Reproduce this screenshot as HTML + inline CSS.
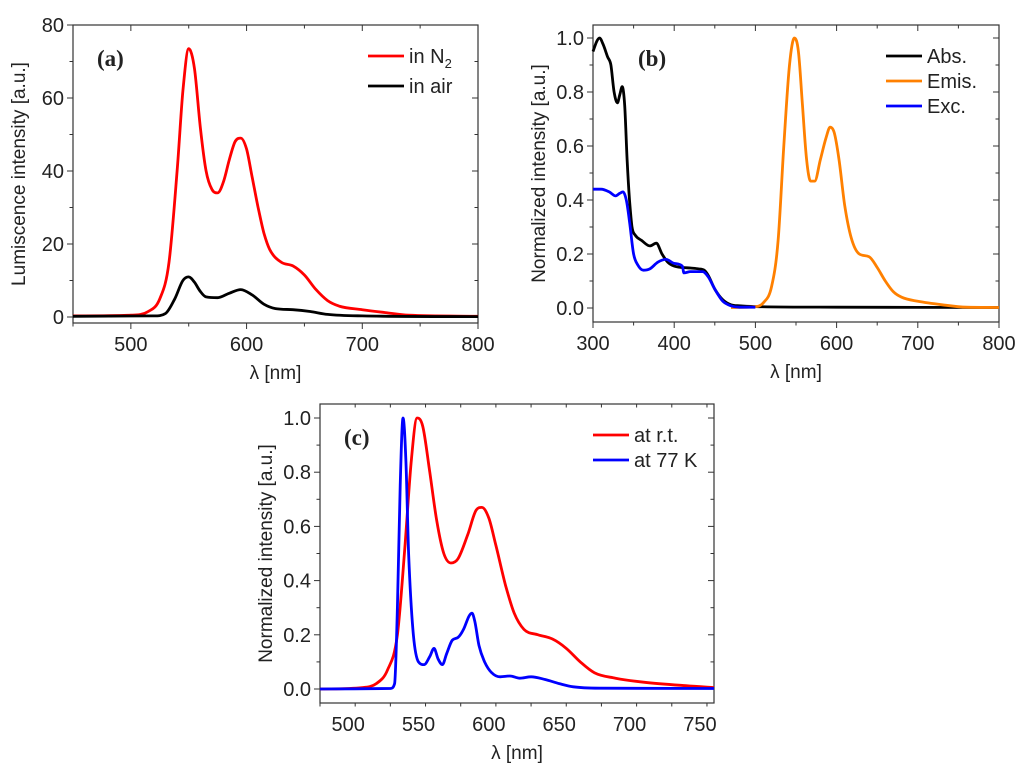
<!DOCTYPE html>
<html><head><meta charset="utf-8"><style>
html,body{margin:0;padding:0;background:#fff;width:1024px;height:767px;overflow:hidden}
svg text{font-family:"Liberation Sans",Arial,sans-serif;fill:#222}
</style></head><body>
<svg id="fig" width="1024" height="767" viewBox="0 0 1024 767" xmlns="http://www.w3.org/2000/svg"></svg>
<script>
// Panel (a) data
const aN2X=[450,500,515,525,533,540,545,550,555,560,565,570,575,580,585,590,595,600,605,610,615,620,630,640,650,660,670,680,700,720,740,800];
const aN2Y=[0.3,0.5,1.5,5,15,40,62,73.5,68,52,40,35,34,37,43,48,49,46,38,30,23,18.5,15,14,11.5,7.5,4.5,3,2,1.2,0.5,0.2];
const aAirX=[450,520,530,538,545,550,555,560,565,575,585,595,605,615,625,640,655,670,700,800];
const aAirY=[0.2,0.3,1,5,10,11,9.5,7,5.5,5.3,6.5,7.5,6,3.5,2.3,2,1.5,0.7,0.3,0.1];
const aXTicks=[500,600,700,800];
const aYTicks=[0,20,40,60,80];
// Panel (b) data
const bAbsX=[300,305,308,312,318,322,326,330,333,336,339,342,345,348,352,360,370,378,385,392,400,410,420,430,437,442,450,460,470,480,500,600,800];
const bAbsY=[0.95,0.99,1.0,0.98,0.93,0.9,0.8,0.76,0.79,0.82,0.75,0.55,0.4,0.3,0.27,0.25,0.23,0.24,0.2,0.17,0.155,0.15,0.148,0.145,0.14,0.12,0.07,0.03,0.012,0.008,0.005,0.003,0.002];
const bExcX=[300,310,320,328,333,337,341,345,350,355,362,370,380,390,400,410,412,420,435,442,450,460,470,480,500];
const bExcY=[0.44,0.44,0.43,0.415,0.425,0.43,0.4,0.32,0.2,0.16,0.14,0.145,0.17,0.18,0.165,0.155,0.13,0.135,0.135,0.115,0.07,0.025,0.008,0.003,0.003];
const bEmX=[470,500,510,520,528,535,542,548,553,558,563,568,573,580,587,592,597,603,610,618,628,640,650,660,670,680,700,730,760,800];
const bEmY=[0.002,0.005,0.02,0.08,0.25,0.6,0.9,1.0,0.95,0.75,0.55,0.47,0.47,0.55,0.63,0.67,0.65,0.55,0.38,0.26,0.2,0.19,0.15,0.1,0.06,0.04,0.025,0.012,0.003,0.002];
const bXTicks=[300,400,500,600,700,800];
const bYTicks=[0,0.2,0.4,0.6,0.8,1.0];
// Panel (c) data
const cRtX=[480,510,520,528,535,540,545,549,553,558,563,568,573,578,585,591,595,600,605,612,618,625,635,645,655,665,675,690,710,740,760];
const cRtY=[0,0.005,0.02,0.07,0.2,0.5,0.85,1.0,0.97,0.8,0.62,0.5,0.465,0.48,0.57,0.66,0.67,0.63,0.53,0.38,0.28,0.22,0.2,0.185,0.15,0.1,0.06,0.04,0.025,0.012,0.005];
const c77X=[480,530,533,535,537,539,541,543,546,550,554,558,561,564,567,570,574,578,582,586,588,590,593,597,602,608,615,622,630,640,650,660,680,760];
const c77Y=[0,0.002,0.02,0.3,0.75,1.0,0.85,0.5,0.22,0.1,0.09,0.12,0.15,0.11,0.09,0.13,0.18,0.19,0.22,0.27,0.28,0.25,0.16,0.1,0.06,0.045,0.048,0.04,0.045,0.035,0.02,0.008,0.003,0.002];
const cXTicks=[500,550,600,650,700,750];
const cYTicks=[0,0.2,0.4,0.6,0.8,1.0];

const NS="http://www.w3.org/2000/svg";
const svg=document.getElementById('fig');
function mk(tag,attrs,parent){const e=document.createElementNS(NS,tag);for(const k in attrs)e.setAttribute(k,attrs[k]);(parent||svg).appendChild(e);return e;}
// monotone cubic (Fritsch-Carlson) path
function smooth(p){const n=p.length;const d=[],m=[];
 for(let i=0;i<n-1;i++)d.push((p[i+1][1]-p[i][1])/(p[i+1][0]-p[i][0]));
 m[0]=d[0];m[n-1]=d[n-2];
 for(let i=1;i<n-1;i++){m[i]=(d[i-1]*d[i]<=0)?0:(d[i-1]+d[i])/2;}
 for(let i=0;i<n-1;i++){if(d[i]===0){m[i]=0;m[i+1]=0;continue;}const a=m[i]/d[i],b=m[i+1]/d[i],s=a*a+b*b;if(s>9){const t=3/Math.sqrt(s);m[i]=t*a*d[i];m[i+1]=t*b*d[i];}}
 let s='M'+p[0][0].toFixed(1)+','+p[0][1].toFixed(1);
 for(let i=0;i<n-1;i++){const h=(p[i+1][0]-p[i][0])/3;
  s+='C'+(p[i][0]+h).toFixed(1)+','+(p[i][1]+m[i]*h).toFixed(1)+' '+(p[i+1][0]-h).toFixed(1)+','+(p[i+1][1]-m[i+1]*h).toFixed(1)+' '+p[i+1][0].toFixed(1)+','+p[i+1][1].toFixed(1);}
 return s;}
function panel(o){
 const g=mk('g',{});
 
 
 const sx=v=>o.L+(v-o.x0)/(o.x1-o.x0)*(o.R-o.L);
 const sy=v=>o.yb+(v-o.y0)/(o.y1-o.y0)*(o.yt-o.yb);
 const fr=mk('rect',{x:o.L,y:o.T,width:o.R-o.L,height:o.B-o.T,fill:'none',stroke:'#333','stroke-width':1.2},g);
 
 
 const xstep=o.xt[1]-o.xt[0];
 for(let v=o.x0;v<=o.x1+1e-9;v+=xstep/2){const x=sx(v);const maj=o.xt.some(t=>Math.abs(t-v)<1e-6);const len=maj?6:3.5;
  mk('line',{x1:x,x2:x,y1:o.B,y2:o.B+len,stroke:'#333','stroke-width':1},g);
  mk('line',{x1:x,x2:x,y1:o.T,y2:o.T+len,stroke:'#333','stroke-width':1},g);}
 o.xt.forEach(v=>{const t=mk('text',{x:sx(v),y:o.B+28,'text-anchor':'middle','font-size':20},g);t.textContent=v;
  
  });
 const ystep=o.yt_[1]-o.yt_[0];
 for(let k=0;;k++){const v=o.y0+k*ystep/2;if(v>o.y1+1e-9)break;const y=sy(v);const maj=k%2==0;const len=maj?6:3.5;
  mk('line',{x1:o.L-len,x2:o.L,y1:y,y2:y,stroke:'#333','stroke-width':1},g);
  mk('line',{x1:o.R-len,x2:o.R,y1:y,y2:y,stroke:'#333','stroke-width':1},g);}
 o.yt_.forEach(v=>{const t=mk('text',{x:o.L-9,y:sy(v)+7,'text-anchor':'end','font-size':20},g);t.textContent=o.fmt(v);
  
  });
 const xt=mk('text',{x:(o.L+o.R)/2,y:o.B+56,'text-anchor':'middle','font-size':19},g);xt.textContent='λ [nm]';
 
 
 const yt=mk('text',{x:0,y:0,'text-anchor':'middle','font-size':19,transform:`translate(${o.L-48},${(o.T+o.B)/2}) rotate(-90)`},g);yt.textContent=o.ytitle;
 
 
 const lb=mk('text',{x:o.labX,y:o.T+41,'font-size':23,'font-weight':'bold',style:'font-family:"Liberation Serif",serif'},g);lb.textContent=o.label;
 
 
 o.series.forEach((s,i)=>{
  const pts=s.x.map((v,j)=>[sx(v),sy(s.y[j])]);
  const p=mk('path',{d:smooth(pts),fill:'none',stroke:s.c,'stroke-width':2.8,'stroke-linejoin':'round'},g);
  
  
  const ly=o.legY+i*o.legDy;
  const ll=mk('line',{x1:o.legX,x2:o.legX+36,y1:ly,y2:ly,stroke:s.c,'stroke-width':2.8},g);
  
  
  const lt=mk('text',{x:o.legX+41,y:ly+7,'font-size':20},g);
  
  
  if(s.sub){lt.textContent=s.label;const ts=mk('tspan',{'font-size':13,dy:5},lt);ts.textContent=s.sub;}else lt.textContent=s.label;
 });
}
panel({name:'panel-a',L:73,R:478,T:25,B:323,x0:450,x1:800,y0:0,y1:80,yb:317,yt:25,xt:aXTicks,yt_:aYTicks,fmt:v=>v,
 ytitle:'Lumiscence intensity [a.u.]',label:'(a)',labX:97,legX:368,legY:56,legDy:30,
 series:[{id:'line-in-n2',x:aN2X,y:aN2Y,c:'#ff0000',label:'in N',sub:'2'},{id:'line-in-air',x:aAirX,y:aAirY,c:'#000',label:'in air'}]});
panel({name:'panel-b',L:593,R:999,T:25,B:322,x0:300,x1:800,y0:0,y1:1,yb:308,yt:38,xt:bXTicks,yt_:bYTicks,fmt:v=>v.toFixed(1),
 ytitle:'Normalized intensity [a.u.]',label:'(b)',labX:638,legX:886,legY:56,legDy:25,
 series:[{id:'line-abs',x:bAbsX,y:bAbsY,c:'#000',label:'Abs.'},{id:'line-emis',x:bEmX,y:bEmY,c:'#ff8000',label:'Emis.'},{id:'line-exc',x:bExcX,y:bExcY,c:'#0000ff',label:'Exc.'}]});
panel({name:'panel-c',L:320,R:714,T:404,B:703,x0:480,x1:760,y0:0,y1:1,yb:689,yt:418,xt:cXTicks,yt_:cYTicks,fmt:v=>v.toFixed(1),
 ytitle:'Normalized intensity [a.u.]',label:'(c)',labX:344,legX:593,legY:435,legDy:25,
 series:[{id:'line-room-temp',x:cRtX,y:cRtY,c:'#ff0000',label:'at r.t.'},{id:'line-77k',x:c77X,y:c77Y,c:'#0000ff',label:'at 77 K'}]});
</script>
</body></html>
